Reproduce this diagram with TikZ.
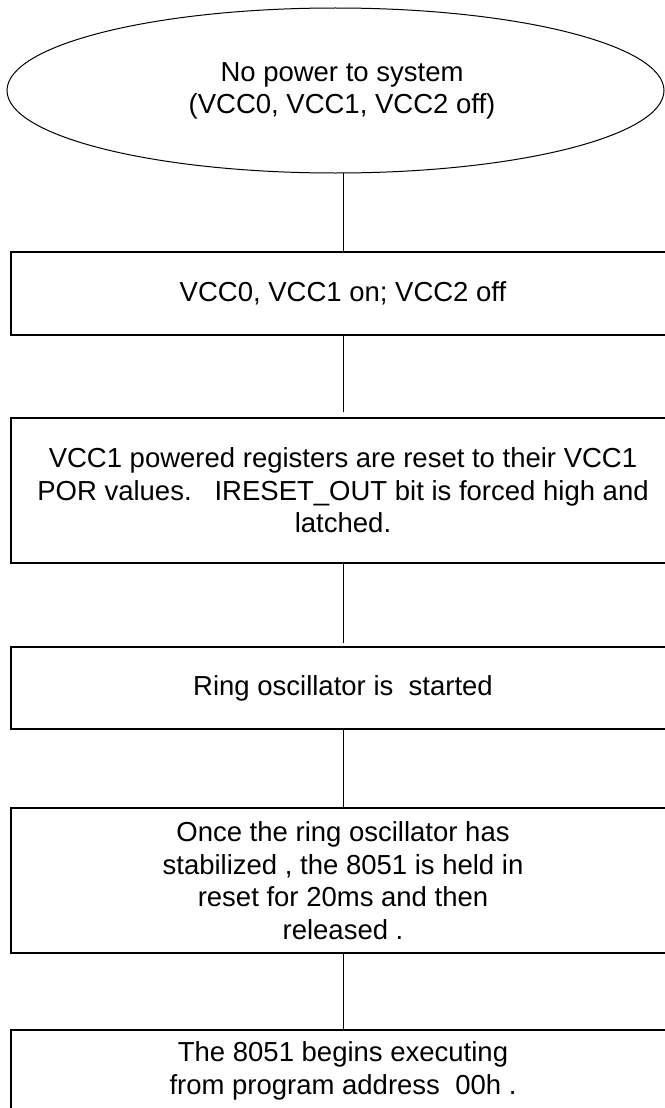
\documentclass[tikz,border=0pt]{standalone}
\usepackage{fontspec}
\setmainfont{Liberation Sans}
\usetikzlibrary{shapes.geometric}
\tikzset{
	flowtext/.style={font=\fontsize{27.5}{32.6}\selectfont, align=center, inner sep=0pt},
	stepbox/.style={draw, line width=1.3pt, minimum width=664pt, inner sep=0pt, flowtext},
	startshape/.style={draw, ellipse, line width=1pt, inner sep=0pt, minimum width=657pt, minimum height=165pt},
	link/.style={line width=1pt}
}
\begin{document}
\begin{tikzpicture}[x=1pt, y=-1pt]
		\useasboundingbox (0,0) rectangle (664,1108);
		
		%start state
		\node[startshape] (start) at (335.5, 90.5){};
		\node[flowtext] (starttext) at (342, 91){No power to system\\(VCC0, VCC1, VCC2 off)};
		\coordinate (startout) at (343, 173);
		
		%power-up steps
		\node[stepbox, minimum height=83pt] (vccon) at (343, 293.5){VCC0, VCC1 on; VCC2 off};
		\node[stepbox, minimum height=145pt] (porreset) at (343, 490.5){VCC1 powered registers are reset to their VCC1\\POR values.\ \ \ IRESET\_OUT bit is forced high and\\latched.};
		\node[stepbox, minimum height=82pt] (ringosc) at (343, 688){Ring oscillator is\ \ started};
		\node[stepbox, minimum height=145pt] (holdreset) at (343, 880.5){Once the ring oscillator has\\stabilized , the 8051 is held in\\reset for 20ms and then\\released .};
		\node[stepbox, minimum height=82pt] (execute) at (343, 1071){The 8051 begins executing\\from program address\ \ 00h .};
		
		%connectors
		\draw[link] (startout) -- (vccon.north);
		\draw[link, shorten >=5pt] (vccon.south) -- (porreset.north);
		\draw[link, shorten >=3pt] (porreset.south) -- (ringosc.north);
		\draw[link] (ringosc.south) -- (holdreset.north);
		\draw[link] (holdreset.south) -- (execute.north);
\end{tikzpicture}
\end{document}
